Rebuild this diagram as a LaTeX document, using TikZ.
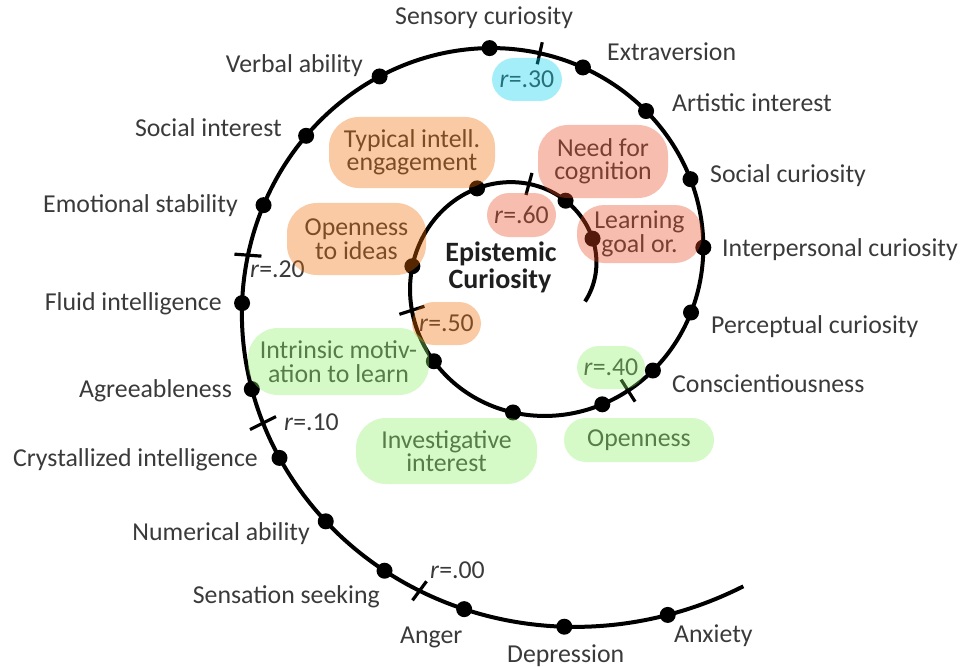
\documentclass[tikz,border=0pt]{standalone}
\usepackage{fontspec}
\setmainfont{Carlito}
\definecolor{labelgray}{RGB}{58,58,58}
\definecolor{orangeC}{RGB}{238,108,0}
\definecolor{orangeT}{RGB}{123,76,37}
\definecolor{redC}{RGB}{233,74,33}
\definecolor{redT}{RGB}{121,64,49}
\definecolor{greenC}{RGB}{141,238,102}
\definecolor{greenT}{RGB}{88,123,74}
\definecolor{cyanC}{RGB}{0,208,236}
\definecolor{cyanT}{RGB}{37,112,122}
\pgfmathdeclarefunction{spr}{1}{\pgfmathparse{71.7*exp(0.0025237*#1)}}
\begin{document}
\begin{tikzpicture}[x=1bp,y=-1bp,
  font=\fontsize{25.8bp}{23.5bp}\selectfont,
  lbl/.style={text=labelgray, inner sep=0},
  dot/.style={circle, fill=black, inner sep=0, minimum size=16bp},
  spiral/.style={line width=4bp},
  tickline/.style={line width=3.2bp},
  box/.style={rounded corners=22bp, inner sep=0, align=center, fill opacity=0.36, text opacity=1},
  obox/.style={box, fill=orangeC, text=orangeT},
  rbox/.style={box, fill=redC, text=redT},
  gbox/.style={box, fill=greenC, text=greenT},
  cbox/.style={box, fill=cyanC, text=cyanT},
  ctitle/.style={inner sep=0, text=black!88, font=\fontsize{28bp}{24bp}\selectfont\bfseries}]
\useasboundingbox (0,0) rectangle (962,667);
% spiral
\draw[spiral] plot[domain=-25:665, samples=400, smooth]
  ({524+spr(\x)*cos(\x)},{273-spr(\x)*sin(\x)});
% dots
\foreach \n/\t in {lgo/26.6, nfc/60.1, tie/119, oti/176.5, iml/224.4, ii/265.5,
  op/300.8, consc/322.9, perc/346.7, inter/368.1, socc/389.4, art/413,
  extra/434, sens/458.7, verb/486.3, soci/507.8, emo/525.4, fluid/546.1,
  agree/563.1, cryst/577.1, num/591.4, sseek/604.9, anger/619.9,
  depr/636.5, anx/652.8}
  \node[dot] (\n) at ({524+spr(\t)*cos(\t)},{273-spr(\t)*sin(\t)}) {};
% tick positions
\foreach \n/\t in {t30/445.9, t60/86.8, t20/536.3, t50/198.4, t40/311.5,
  t10/569.9, t00/611.8}
  \coordinate (\n) at ({524+spr(\t)*cos(\t)},{273-spr(\t)*sin(\t)});
\draw[tickline] ([shift={(-2.5,11)}]t30) -- ([shift={(2.5,-11)}]t30);
\draw[tickline] ([shift={(-3,11)}]t60) -- ([shift={(3,-11)}]t60);
\draw[tickline] ([shift={(-13.5,-1)}]t20) -- ([shift={(13.5,1)}]t20);
\draw[tickline] ([shift={(-12.5,4)}]t50) -- ([shift={(12.5,-4)}]t50);
\draw[tickline] ([shift={(-7,-11)}]t40) -- ([shift={(7,11)}]t40);
\draw[tickline] ([shift={(-13,6.5)}]t10) -- ([shift={(13,-6.5)}]t10);
\draw[tickline] ([shift={(-7,9.5)}]t00) -- ([shift={(7,-9.5)}]t00);
% outer labels
\node[lbl, anchor=base west] (Lsens) at (395,25) {Sensory curiosity};
\node[lbl, anchor=base west] (Lextra) at (607,61) {Extraversion};
\node[lbl, anchor=base west] (Lart) at (672,112) {Artistic interest};
\node[lbl, anchor=base west] (Lsocc) at (710,183) {Social curiosity};
\node[lbl, anchor=base west] (Linter) at (722,256) {Interpersonal curiosity};
\node[lbl, anchor=base west] (Lperc) at (711,333) {Perceptual curiosity};
\node[lbl, anchor=base west] (Lconsc) at (672,392) {Conscientiousness};
\node[lbl, anchor=base west] (Lanx) at (674,642) {Anxiety};
\node[lbl, anchor=base west] (Ldepr) at (507,662) {Depression};
\node[lbl, anchor=base west] (Langer) at (400,643) {Anger};
\node[lbl, anchor=base east] (Lsseek) at (380,603) {Sensation seeking};
\node[lbl, anchor=base west] (Lr00) at (430,578) {\textit{r}=.00};
\node[lbl, anchor=base east] (Lnum) at (310,540) {Numerical ability};
\node[lbl, anchor=base east] (Lcryst) at (258,466) {Crystallized intelligence};
\node[lbl, anchor=base west] (Lr10) at (284,430) {\textit{r}=.10};
\node[lbl, anchor=base east] (Lagree) at (232,397) {Agreeableness};
\node[lbl, anchor=base east] (Lfluid) at (222,310) {Fluid intelligence};
\node[lbl, anchor=base west] (Lr20) at (250,277) {\textit{r}=.20};
\node[lbl, anchor=base east] (Lemo) at (238,212) {Emotional stability};
\node[lbl, anchor=base east] (Lsoci) at (282,137) {Social interest};
\node[lbl, anchor=base east] (Lverb) at (363,73) {Verbal ability};
% centre
\node[ctitle, anchor=base] (ec1) at (501,261) {Epistemic};
\node[ctitle, anchor=base] (ec2) at (500,288) {Curiosity};
% boxes
\node[cbox, minimum width=70bp, minimum height=43bp] (b30) at (527,79.5) {\textit{r}=.30};
\node[obox, rounded corners=30bp, minimum width=166bp, minimum height=71bp] (btie) at (412,152.5) {Typical intell.\\engagement};
\node[rbox, rounded corners=30bp, minimum width=130bp, minimum height=73bp] (bnfc) at (603,161.5) {Need for\\cognition};
\node[rbox, minimum width=69bp, minimum height=44bp] (b60) at (521.5,215) {\textit{r}=.60};
\node[rbox, rounded corners=27bp, minimum width=125bp, minimum height=58bp] (blgo) at (639.5,234) {Learning\\goal or.};
\node[obox, rounded corners=30bp, minimum width=139bp, minimum height=72bp] (boti) at (356.5,239) {Openness\\to ideas};
\node[obox, minimum width=69bp, minimum height=43bp] (b50) at (446.5,323.5) {\textit{r}=.50};
\node[gbox, rounded corners=30bp, minimum width=181bp, minimum height=67bp] (biml) at (338.5,361.5) {Intrinsic motiv-\\ation to learn};
\node[gbox, minimum width=68bp, minimum height=43bp] (b40) at (611,367.5) {\textit{r}=.40};
\node[gbox, rounded corners=30bp, minimum width=181bp, minimum height=66bp] (bii) at (446.5,451) {Investigative\\interest};
\node[gbox, minimum width=150bp, minimum height=44bp] (bop) at (639,440) {Openness};
\end{tikzpicture}
\end{document}
